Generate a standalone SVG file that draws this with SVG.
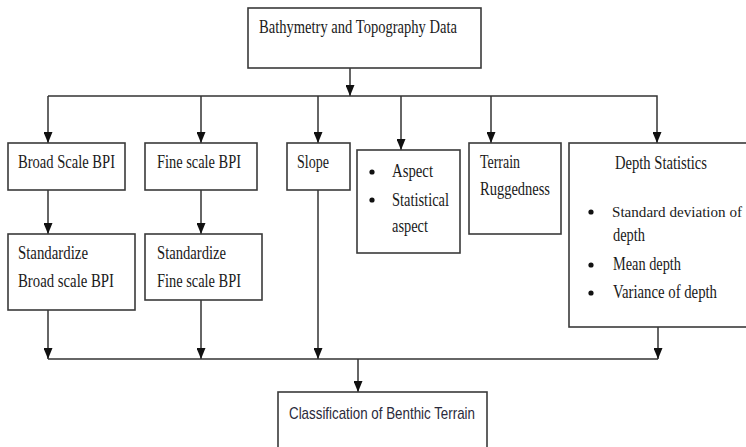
<svg xmlns="http://www.w3.org/2000/svg" width="746" height="447" viewBox="0 0 746 447">
<style>
.box{fill:#fff;stroke:#3a3a3a;stroke-width:1.6}
.c{fill:none;stroke:#333;stroke-width:1.5}
.t{font-family:"Liberation Serif","Times New Roman",serif;font-size:19px;fill:#1a1a1a}
.s{font-family:"Liberation Sans",Arial,sans-serif;font-size:17px;fill:#2a2a3a}
.b{fill:#111}
</style>
<defs>
<marker id="ah" markerUnits="userSpaceOnUse" markerWidth="11" markerHeight="9" refX="11" refY="4.5" orient="auto">
<path d="M0,0 L11,4.5 L0,9 z" fill="#111"/>
</marker>
</defs>
<rect width="746" height="447" fill="#fff"/>
<g id="connectors">
<line class="c" x1="350" y1="68" x2="350" y2="96" marker-end="url(#ah)"/>
<polyline class="c" points="48,96 657,96 657,143" marker-end="url(#ah)"/>
<line class="c" x1="48" y1="96" x2="48" y2="143" marker-end="url(#ah)"/>
<line class="c" x1="201" y1="96" x2="201" y2="143" marker-end="url(#ah)"/>
<line class="c" x1="318" y1="96" x2="318" y2="143" marker-end="url(#ah)"/>
<line class="c" x1="401" y1="96" x2="401" y2="150" marker-end="url(#ah)"/>
<line class="c" x1="491" y1="96" x2="491" y2="143" marker-end="url(#ah)"/>
<line class="c" x1="48" y1="190" x2="48" y2="234" marker-end="url(#ah)"/>
<line class="c" x1="201" y1="190" x2="201" y2="234" marker-end="url(#ah)"/>
<line class="c" x1="48" y1="310" x2="48" y2="359" marker-end="url(#ah)"/>
<line class="c" x1="201" y1="300" x2="201" y2="359" marker-end="url(#ah)"/>
<line class="c" x1="318" y1="190" x2="318" y2="359" marker-end="url(#ah)"/>
<line class="c" x1="658" y1="327" x2="658" y2="359" marker-end="url(#ah)"/>
<line class="c" x1="48" y1="359" x2="658" y2="359"/>
<line class="c" x1="358" y1="359" x2="358" y2="392" marker-end="url(#ah)"/>
</g>
<g id="bathymetry">
<rect class="box" x="248" y="8" width="233" height="60"/>
<text class="t" x="259" y="33" textLength="198" lengthAdjust="spacingAndGlyphs">Bathymetry and Topography Data</text>
</g>
<g id="broad-bpi">
<rect class="box" x="8" y="143" width="117" height="47"/>
<text class="t" x="18" y="168" textLength="97" lengthAdjust="spacingAndGlyphs">Broad Scale BPI</text>
</g>
<g id="fine-bpi">
<rect class="box" x="145" y="143" width="112" height="47"/>
<text class="t" x="157" y="168" textLength="84" lengthAdjust="spacingAndGlyphs">Fine scale BPI</text>
</g>
<g id="slope">
<rect class="box" x="287" y="143" width="63" height="47"/>
<text class="t" x="297" y="168" textLength="32" lengthAdjust="spacingAndGlyphs">Slope</text>
</g>
<g id="aspect">
<rect class="box" x="357" y="150" width="103" height="103"/>
<circle class="b" cx="372" cy="172" r="2.6"/>
<circle class="b" cx="372" cy="200" r="2.6"/>
<text class="t" x="392" y="177" textLength="41" lengthAdjust="spacingAndGlyphs">Aspect</text>
<text class="t" x="392" y="206" textLength="57" lengthAdjust="spacingAndGlyphs">Statistical</text>
<text class="t" x="392" y="232" textLength="36" lengthAdjust="spacingAndGlyphs">aspect</text>
</g>
<g id="terrain-ruggedness">
<rect class="box" x="469" y="143" width="92" height="91"/>
<text class="t" x="480" y="168" textLength="40" lengthAdjust="spacingAndGlyphs">Terrain</text>
<text class="t" x="480" y="195" textLength="70" lengthAdjust="spacingAndGlyphs">Ruggedness</text>
</g>
<g id="depth-statistics">
<rect class="box" x="569" y="143" width="180" height="184"/>
<text class="t" x="615" y="169" textLength="92" lengthAdjust="spacingAndGlyphs">Depth Statistics</text>
<circle class="b" cx="591" cy="212" r="2.6"/>
<circle class="b" cx="591" cy="265" r="2.6"/>
<circle class="b" cx="591" cy="293" r="2.6"/>
<text class="t" x="612" y="217" style="font-size:15.5px" textLength="130" lengthAdjust="spacingAndGlyphs">Standard deviation of</text>
<text class="t" x="613" y="241" textLength="32" lengthAdjust="spacingAndGlyphs">depth</text>
<text class="t" x="613" y="270" textLength="68" lengthAdjust="spacingAndGlyphs">Mean depth</text>
<text class="t" x="613" y="298" textLength="104" lengthAdjust="spacingAndGlyphs">Variance of depth</text>
</g>
<g id="std-broad-bpi">
<rect class="box" x="8" y="234" width="127" height="76"/>
<text class="t" x="18" y="259" textLength="70" lengthAdjust="spacingAndGlyphs">Standardize</text>
<text class="t" x="18" y="287" textLength="96" lengthAdjust="spacingAndGlyphs">Broad scale BPI</text>
</g>
<g id="std-fine-bpi">
<rect class="box" x="145" y="234" width="117" height="66"/>
<text class="t" x="157" y="259" textLength="69" lengthAdjust="spacingAndGlyphs">Standardize</text>
<text class="t" x="157" y="287" textLength="84" lengthAdjust="spacingAndGlyphs">Fine scale BPI</text>
</g>
<g id="classification">
<rect class="box" x="278" y="392" width="209" height="70"/>
<text class="s" x="289" y="419" textLength="186" lengthAdjust="spacingAndGlyphs">Classification of Benthic Terrain</text>
</g>
</svg>
